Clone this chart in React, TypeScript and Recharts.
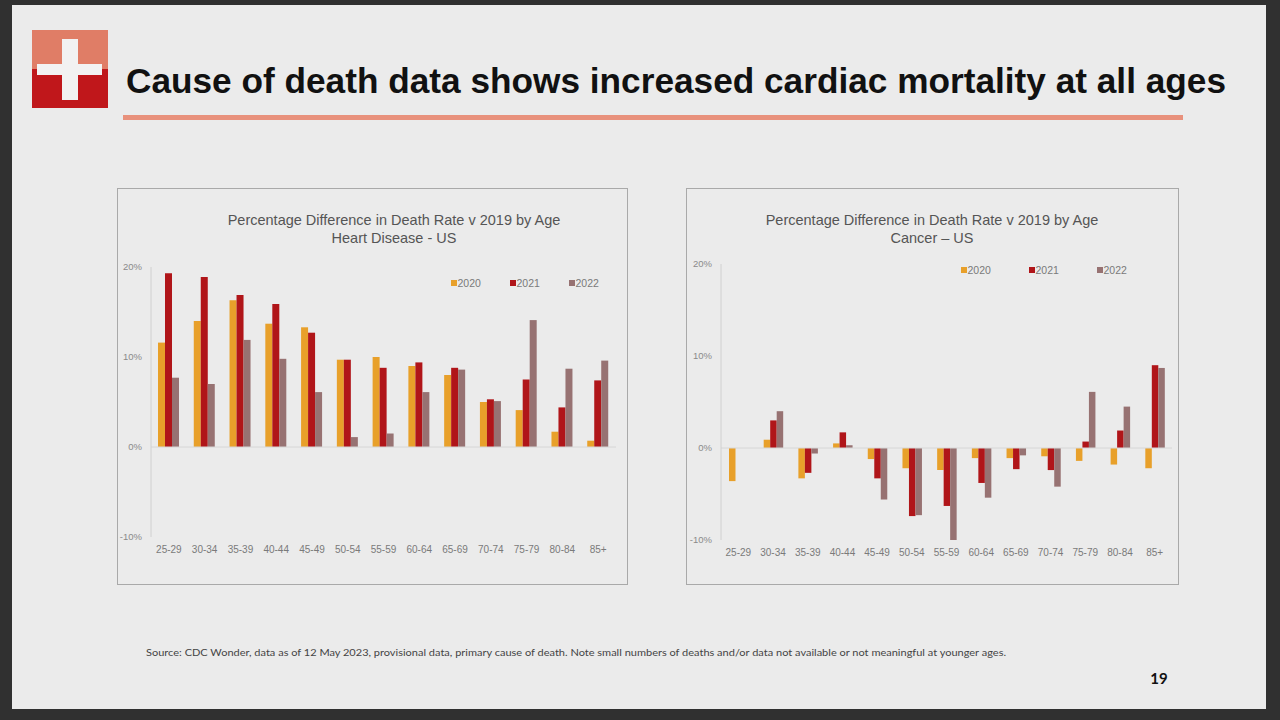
import { BarChart, Bar, XAxis, YAxis, Legend, ReferenceLine } from 'recharts'

const AGES = ['25-29', '30-34', '35-39', '40-44', '45-49', '50-54', '55-59', '60-64', '65-69', '70-74', '75-79', '80-84', '85+']
const YEARS = ['2020', '2021', '2022']

// heart disease, % difference v 2019
const HEART_2020 = [11.6, 14.0, 16.3, 13.7, 13.3, 9.7, 10.0, 9.0, 8.0, 5.0, 4.1, 1.7, 0.7]
const HEART_2021 = [19.3, 18.9, 16.9, 15.9, 12.7, 9.7, 8.8, 9.4, 8.8, 5.3, 7.5, 4.4, 7.4]
const HEART_2022 = [7.7, 7.0, 11.9, 9.8, 6.1, 1.1, 1.5, 6.1, 8.6, 5.1, 14.1, 8.7, 9.6]

// cancer, % difference v 2019
const CANCER_2020 = [-3.6, 0.9, -3.3, 0.5, -1.2, -2.2, -2.4, -1.1, -1.1, -0.9, -1.4, -1.8, -2.2]
const CANCER_2021 = [null, 3.0, -2.7, 1.7, -3.3, -7.4, -6.3, -3.8, -2.3, -2.4, 0.7, 1.9, 9.0]
const CANCER_2022 = [null, 4.0, -0.6, 0.3, -5.6, -7.3, -10.2, -5.4, -0.8, -4.2, 6.1, 4.5, 8.7]

const Y_TICKS = [-10, 0, 10, 20]

const COLORS = ['#E8A02A', '#B01519', '#977272']
const SLIDE_BG = '#EBEBEB'
const AXIS_FONT = '"Liberation Sans", Arial, sans-serif'

function toRows(a: (number | null)[], b: (number | null)[], c: (number | null)[]) {
  return AGES.map((age, i) => ({ age, '2020': a[i], '2021': b[i], '2022': c[i] }))
}

const heartData = toRows(HEART_2020, HEART_2021, HEART_2022)
const cancerData = toRows(CANCER_2020, CANCER_2021, CANCER_2022)

function LegendRow({ step }: { step: number }) {
  return (
    <div style={{ display: 'flex', fontFamily: AXIS_FONT, fontSize: 10.5, color: '#7a7a7a' }}>
      {YEARS.map((y, i) => (
        <div key={y} style={{ width: step, display: 'flex', alignItems: 'center' }}>
          <span style={{ width: 6, height: 6, background: COLORS[i], display: 'inline-block', marginRight: 1 }} />
          {y}
        </div>
      ))}
    </div>
  )
}

function ChartBox(props: {
  left: number
  width: number
  titleCx: number
  title2: string
  data: any[]
  margin: { top: number; right: number; bottom: number }
  yWidth: number
  legendTop: number
  legendLeft: number
  legendStep: number
  barSize: number
}) {
  const { left, width, titleCx, title2, data, margin, yWidth, legendTop, legendLeft, legendStep, barSize } = props
  const height = 397
  return (
    <div
      style={{
        position: 'absolute',
        left,
        top: 188,
        width,
        height,
        border: '1.5px solid #a9a9a9',
        boxSizing: 'border-box',
        background: SLIDE_BG,
      }}
    >
      <div
        style={{
          position: 'absolute',
          left: titleCx - 200,
          width: 400,
          top: 22,
          textAlign: 'center',
          fontFamily: AXIS_FONT,
          fontSize: 14.5,
          lineHeight: '18px',
          color: '#555',
        }}
      >
        Percentage Difference in Death Rate v 2019 by Age
        <br />
        {title2}
      </div>
      <div style={{ position: 'absolute', left: -1.5, top: -1.5 }}>
        <BarChart
          width={width}
          height={height}
          data={data}
          margin={{ top: margin.top, right: margin.right, bottom: margin.bottom, left: 0 }}
          barGap={0}
          barSize={barSize}
        >
          <XAxis
            dataKey="age"
            axisLine={false}
            tickLine={false}
            tickSize={0}
            interval={0}
            height={30}
            tickMargin={9}
            tick={{ fill: '#7a7a7a', fontSize: 10, fontFamily: AXIS_FONT }}
          />
          <YAxis
            width={yWidth}
            domain={[-10, 20]}
            ticks={Y_TICKS}
            allowDataOverflow
            tickFormatter={(v: number) => `${v}%`}
            tickLine={false}
            tickSize={0}
            tickMargin={9}
            axisLine={{ stroke: '#d0d0d0' }}
            tick={{ fill: '#8a8a8a', fontSize: 9.5, fontFamily: AXIS_FONT }}
          />
          <ReferenceLine y={0} stroke="#d6d6d6" />
          <Legend
            layout="horizontal"
            verticalAlign="middle"
            align="center"
            content={() => <LegendRow step={legendStep} />}
            wrapperStyle={{ top: legendTop, left: legendLeft, width: 'auto' }}
          />
          {YEARS.map((y, i) => (
            <Bar key={y} dataKey={y} fill={COLORS[i]} isAnimationActive={false} />
          ))}
        </BarChart>
      </div>
    </div>
  )
}

export default function App() {
  return (
    <div style={{ position: 'absolute', left: 0, top: 0, width: 1280, height: 720, background: '#303030', overflow: 'hidden' }}>
      <div style={{ position: 'absolute', left: 12, top: 5, width: 1254, height: 704, background: SLIDE_BG }} />

      {/* logo */}
      <div style={{ position: 'absolute', left: 32, top: 30, width: 76, height: 39, background: '#E07D66' }} />
      <div style={{ position: 'absolute', left: 32, top: 69, width: 76, height: 39, background: '#C0171B' }} />
      <div style={{ position: 'absolute', left: 62, top: 39, width: 16, height: 61, background: '#F2F2F2' }} />
      <div style={{ position: 'absolute', left: 37, top: 64, width: 65, height: 11, background: '#F2F2F2' }} />

      <svg style={{ position: 'absolute', left: 0, top: 0 }} width={1280} height={720}>
        <text
          x={126}
          y={93}
          textLength={1100}
          lengthAdjust="spacingAndGlyphs"
          fontFamily='"Liberation Sans", Arial, sans-serif'
          fontWeight={700}
          fontSize={35}
          fill="#111"
        >
          Cause of death data shows increased cardiac mortality at all ages
        </text>
        <rect x={123} y={115} width={1060} height={5} fill="#E8917C" />
        <text
          x={146}
          y={656}
          textLength={860}
          lengthAdjust="spacingAndGlyphs"
          fontFamily="Lato, sans-serif"
          fontSize={10}
          fill="#444"
        >
          Source: CDC Wonder, data as of 12 May 2023, provisional data, primary cause of death. Note small numbers of deaths and/or data not available or not meaningful at younger ages.
        </text>
        <text x={1159} y={684} textAnchor="middle" fontFamily="Lato, sans-serif" fontWeight={700} fontSize={15} fill="#111">
          19
        </text>
      </svg>

      <ChartBox
        left={117}
        width={511}
        titleCx={276}
        title2="Heart Disease - US"
        data={heartData}
        margin={{ top: 79, right: 12, bottom: 18 }}
        yWidth={34}
        legendTop={89}
        legendLeft={334}
        legendStep={59}
        barSize={7}
      />
      <ChartBox
        left={686}
        width={493}
        titleCx={245}
        title2="Cancer – US"
        data={cancerData}
        margin={{ top: 76, right: 7, bottom: 15 }}
        yWidth={35}
        legendTop={76}
        legendLeft={275}
        legendStep={68}
        barSize={6.5}
      />
    </div>
  )
}
